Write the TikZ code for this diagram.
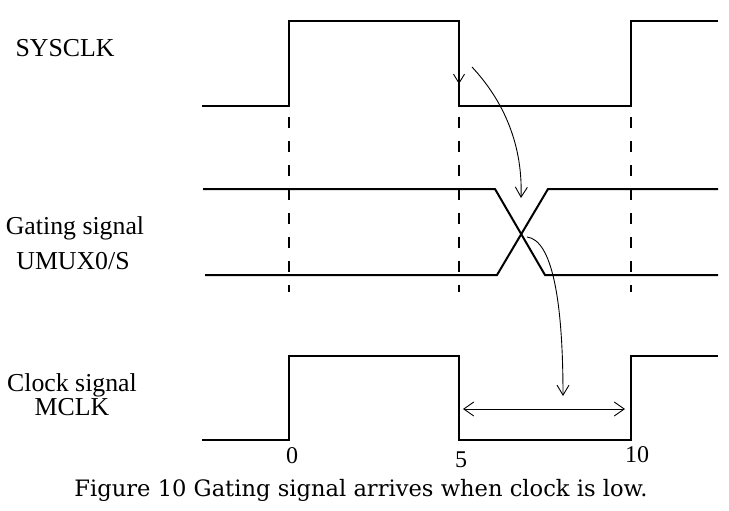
\documentclass[tikz,border=0pt]{standalone}
\usepackage{fontspec}
\setmainfont{Liberation Serif}
\newfontfamily\capfont{DejaVu Serif}
\usetikzlibrary{arrows.meta}
\tikzset{
  wave/.style={line width=2pt, line join=miter},
  guide/.style={line width=1.2pt, dash pattern=on 11pt off 13pt},
  curvearrow/.style={line width=0.9pt, -{Straight Barb[length=10pt,width=12pt,line width=0.9pt]}},
  spanarrow/.style={line width=0.9pt, {Straight Barb[length=10pt,width=14pt,line width=0.9pt]}-{Straight Barb[length=10pt,width=14pt,line width=0.9pt]}},
  lbl/.style={font=\fontsize{25.8}{27}\selectfont, anchor=base, inner sep=0pt},
  num/.style={font=\fontsize{24}{26}\selectfont, anchor=base, inner sep=0pt}
}
\begin{document}
\begin{tikzpicture}[x=1pt,y=-1pt]
\useasboundingbox (0,0) rectangle (729,511);
% labels
\node[lbl] (sys) at (65,57) {SYSCLK};
\node[lbl] (gat) at (75,234) {Gating signal};
\node[lbl] (umux) at (73,269) {UMUX0/S};
\node[lbl] (clk) at (72,391) {Clock signal};
\node[lbl] (mclk) at (72,415) {MCLK};
% dashed guides
\draw[guide] (289,117) -- (289,292);
\draw[guide] (459,117) -- (459,292);
\draw[guide] (631,117) -- (631,292);
% SYSCLK
\draw[wave] (202,106) -- (289,106) -- (289,21) -- (459,21) -- (459,106) -- (631,106) -- (631,21) -- (718,21);
% gating signal
\draw[wave] (203,189) -- (495,189) -- (545,275) -- (718,275);
\draw[wave] (205,275) -- (497,275) -- (548,189) -- (718,189);
% MCLK
\draw[wave] (202,440) -- (289,440) -- (289,356) -- (459,356) -- (459,440) -- (631,440) -- (631,356) -- (718,356);
% arrow tip on falling edge
\draw[line width=0.9pt, -{Straight Barb[length=9pt,width=11pt,line width=0.9pt]}] (459,60) -- (459,84);
% curved arrows
\coordinate (a1s) at (472,67);
\coordinate (a1e) at (521,198);
\draw[curvearrow] (a1s) .. controls (500,97) and (523,140) .. (a1e);
\coordinate (a2s) at (527,237);
\coordinate (a2e) at (563,396);
\draw[curvearrow] (a2s) .. controls (552,240) and (563,300) .. (a2e);
% span arrow
\coordinate (sl) at (463,409);
\coordinate (sr) at (625,409);
\draw[spanarrow] (sl) -- (sr);
% numbers
\node[num] (n0) at (292,463) {0};
\node[num] (n5) at (461,467) {5};
\node[num] (n10) at (637,462) {10};
% caption
\node[anchor=base, inner sep=0pt] (cap) at (361,496) {\resizebox{573pt}{!}{\capfont\fontsize{20}{22}\selectfont Figure 10 Gating signal arrives when clock is low.}};
\end{tikzpicture}
\end{document}
